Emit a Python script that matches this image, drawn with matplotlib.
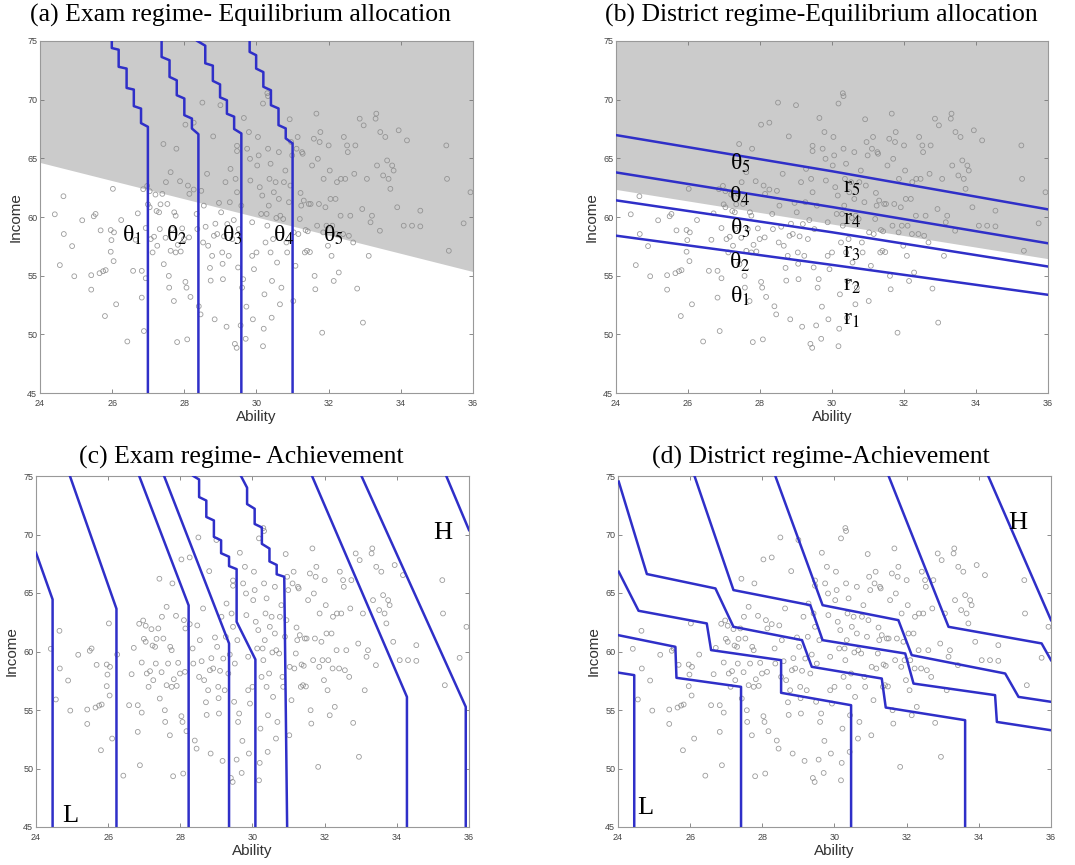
import matplotlib
matplotlib.use("Agg")
import matplotlib.pyplot as plt

plt.rcParams['mathtext.fontset'] = 'stix'

# --------- data ---------

ability = [24.41, 24.65, 24.66, 24.55, 24.89, 24.95, 25.17, 25.42, 25.42, 25.49,
           25.54, 25.68, 25.65, 25.75, 25.80, 25.82, 25.96, 25.96, 25.98, 26.02,
           26.04, 26.05, 26.11, 26.25, 26.42, 26.58, 26.65, 26.71, 26.82, 26.82,
           26.86, 26.88, 26.93, 26.93, 26.97, 26.99, 27.04, 27.04, 27.07, 27.12,
           27.16, 27.20, 27.23, 27.25, 27.30, 27.32, 27.34, 27.39, 27.42, 27.43,
           27.48, 27.49, 27.53, 27.57, 27.58, 27.62, 27.62, 27.66, 27.71, 27.72,
           27.76, 27.76, 27.78, 27.80, 27.82, 27.88, 27.90, 27.94, 27.99, 28.03,
           28.03, 28.06, 28.08, 28.10, 28.13, 28.14, 28.17, 28.26, 28.26, 28.34,
           28.36, 28.40, 28.45, 28.47, 28.50, 28.52, 28.54, 28.59, 28.63, 28.66,
           28.71, 28.73, 28.77, 28.80, 28.82, 28.84, 28.86, 28.91, 28.96, 29.00,
           29.02, 29.05, 29.06, 29.07, 29.10, 29.14, 29.17, 29.19, 29.23, 29.26,
           29.28, 29.33, 29.37, 29.40, 29.42, 29.45, 29.46, 29.46, 29.46, 29.49,
           29.51, 29.56, 29.58, 29.60, 29.63, 29.65, 29.70, 29.72, 29.74, 29.79,
           29.82, 29.83, 29.88, 29.88, 29.90, 29.93, 30.00, 30.02, 30.04, 30.06,
           30.09, 30.13, 30.16, 30.18, 30.18, 30.20, 30.22, 30.25, 30.28, 30.30,
           30.32, 30.34, 30.36, 30.39, 30.39, 30.42, 30.43, 30.46, 30.48, 30.53,
           30.55, 30.57, 30.62, 30.62, 30.65, 30.66, 30.69, 30.74, 30.76, 30.80,
           30.83, 30.85, 30.90, 30.92, 30.94, 30.96, 30.99, 31.02, 31.03, 31.08,
           31.11, 31.14, 31.16, 31.20, 31.22, 31.24, 31.26, 31.28, 31.31, 31.34,
           31.36, 31.40, 31.42, 31.45, 31.48, 31.50, 31.54, 31.59, 31.61, 31.63,
           31.66, 31.68, 31.70, 31.73, 31.75, 31.77, 31.82, 31.85, 31.86, 31.91,
           31.94, 31.98, 32.00, 32.03, 32.05, 32.08, 32.10, 32.14, 32.19, 32.22,
           32.23, 32.28, 32.33, 32.34, 32.40, 32.42, 32.46, 32.51, 32.53, 32.56,
           32.60, 32.68, 32.71, 32.74, 32.79, 32.86, 32.93, 32.95, 32.97, 33.06,
           33.11, 33.16, 33.20, 33.30, 33.32, 33.34, 33.42, 33.43, 33.51, 33.57,
           33.62, 33.66, 33.71, 33.76, 33.80, 33.90, 33.94, 34.08, 34.17, 34.31,
           34.54, 34.54, 35.26, 35.28, 35.33, 35.74, 35.93, 30.30, 30.32]
income = [60.23, 61.77, 58.55, 55.90, 57.52, 54.95, 59.72, 55.04, 53.81, 60.06,
          60.26, 58.86, 55.21, 55.38, 51.56, 55.47, 57.04, 58.89, 58.03, 62.40,
          56.24, 58.69, 52.56, 59.74, 49.39, 55.41, 58.06, 60.31, 53.13, 55.41,
          62.37, 50.28, 59.06, 54.78, 62.65, 61.08, 60.83, 62.20, 58.12, 56.98,
          58.32, 61.91, 60.51, 57.55, 60.40, 58.97, 61.08, 61.97, 66.22, 55.98,
          58.23, 62.97, 61.11, 54.98, 53.98, 63.82, 57.12, 58.97, 52.84, 60.40,
          60.11, 56.98, 65.82, 49.34, 57.63, 63.05, 57.06, 59.03, 58.12, 67.87,
          54.47, 53.98, 49.57, 62.68, 58.26, 61.97, 53.19, 68.04, 62.34, 60.26,
          58.97, 52.39, 51.70, 62.23, 69.75, 57.83, 60.97, 59.17, 63.68, 57.55,
          55.66, 54.58, 56.69, 66.87, 58.40, 51.28, 59.43, 58.55, 61.20, 69.53,
          60.40, 56.98, 56.01, 54.70, 58.35, 62.97, 50.65, 59.40, 56.69, 61.26,
          64.10, 58.12, 59.74, 49.19, 63.25, 48.85, 66.07, 65.62, 62.11, 55.70,
          58.97, 50.76, 60.97, 53.98, 54.70, 68.44, 49.62, 52.36, 65.82, 67.24,
          64.96, 63.11, 59.55, 56.69, 51.28, 55.55, 56.98, 64.39, 66.82, 65.25,
          62.54, 60.26, 61.83, 69.67, 48.99, 50.48, 53.41, 57.83, 60.26, 59.26,
          65.82, 60.97, 63.25, 56.98, 64.54, 51.42, 54.55, 58.12, 62.11, 62.97,
          59.92, 56.12, 61.54, 65.53, 52.56, 60.11, 53.98, 59.83, 62.97, 63.96,
          57.83, 56.98, 61.26, 68.33, 62.68, 66.39, 65.25, 52.84, 58.69, 55.84,
          65.82, 66.82, 58.55, 59.83, 62.05, 60.97, 65.53, 65.39, 61.40, 56.98,
          58.89, 57.12, 58.78, 61.11, 57.01, 61.11, 64.39, 66.67, 54.98, 53.84,
          68.81, 59.26, 64.96, 61.11, 66.39, 67.24, 50.14, 58.69, 63.25, 60.83,
          59.26, 57.55, 66.10, 63.96, 61.54, 56.69, 59.26, 54.55, 61.54, 58.55,
          62.97, 55.27, 60.11, 63.25, 58.55, 66.82, 63.25, 66.10, 65.53, 58.40,
          60.11, 57.83, 63.68, 66.10, 53.90, 68.38, 60.68, 51.00, 67.81, 63.25,
          56.69, 59.55, 60.11, 68.38, 68.81, 64.39, 58.83, 67.24, 63.54, 66.82,
          64.82, 63.25, 62.40, 64.39, 63.96, 60.83, 67.39, 59.26, 66.53, 59.26,
          60.54, 59.20, 66.10, 63.25, 57.12, 59.46, 62.11, 70.55, 70.30]

# (a) exam regime, allocation: shaded region boundary and school cutoffs
exam_bnd_x = [24.0, 36.0]
exam_bnd_y = [64.65, 55.35]
exam_alloc_x = [
    [26.99, 26.99, 26.80, 26.80, 26.60, 26.60, 26.40, 26.40, 26.18, 26.18, 25.99, 25.99],
    [28.39, 28.39, 28.21, 28.21, 28.00, 28.00, 27.79, 27.79, 27.59, 27.59, 27.37, 27.37],
    [29.58, 29.58, 29.38, 29.38, 29.18, 29.18, 28.99, 28.99, 28.79, 28.79, 28.58, 28.58, 28.36],
    [31.00, 31.00, 30.81, 30.81, 30.61, 30.61, 30.40, 30.40, 30.19, 30.19, 29.99, 29.99, 29.81, 29.81],
]
exam_alloc_y = [
    [45.0, 67.69, 68.00, 69.24, 69.45, 70.86, 71.00, 72.65, 72.80, 74.26, 74.40, 75.0],
    [45.0, 67.06, 67.54, 68.39, 68.68, 70.10, 70.38, 71.65, 71.94, 73.36, 73.64, 75.0],
    [45.0, 67.12, 67.50, 68.55, 68.80, 69.95, 70.20, 71.30, 71.60, 72.90, 73.10, 74.60, 75.0],
    [45.0, 66.27, 66.70, 67.55, 67.83, 69.25, 69.53, 70.80, 71.10, 72.35, 72.65, 73.79, 74.07, 75.0],
]
exam_theta_x = [26.54, 27.79, 29.33, 30.75, 32.14]
exam_theta_y = [58.47, 58.47, 58.47, 58.47, 58.47]

# (b) district regime, allocation
dist_bnd_x = [24.0, 36.0]
dist_bnd_y = [62.35, 56.45]
dist_alloc_x = [24.0, 30.0, 36.0]
dist_alloc_y = [
    [66.98, 63.90, 60.65],
    [63.80, 60.85, 57.76],
    [61.42, 58.70, 55.78],
    [58.41, 55.92, 53.37],
]
dist_theta_x = 27.45
dist_theta_y = [53.2, 56.1, 59.0, 61.75, 64.6]
dist_r_x = 30.55
dist_r_y = [51.25, 54.2, 56.95, 59.75, 62.55]

# (c) exam regime, achievement contours
exam_ach_x = [
    [24.00, 24.46, 24.46],
    [24.94, 26.23, 26.23],
    [26.86, 28.23, 28.23],
    [27.55, 29.35, 29.35],
    [28.36, 28.52, 28.52, 28.72, 28.72, 28.93, 28.93, 29.13, 29.13, 29.35, 29.35, 29.56, 29.56, 30.08, 30.08],
    [29.68, 29.85, 29.85, 30.06, 30.06, 30.26, 30.26, 30.47, 30.47, 30.67, 30.67, 30.88, 30.96],
    [31.65, 34.28, 34.28],
    [33.02, 35.91, 35.91],
    [35.37, 36.00],
]
exam_ach_y = [
    [68.44, 64.45, 45.0],
    [75.0, 63.65, 45.0],
    [75.0, 63.94, 45.0],
    [75.0, 60.69, 45.0],
    [75.0, 74.70, 73.20, 72.90, 71.50, 71.20, 69.80, 69.50, 68.40, 68.10, 67.30, 67.04, 62.54, 59.32, 45.0],
    [75.0, 74.00, 72.60, 72.20, 70.90, 70.60, 69.20, 68.80, 67.70, 67.40, 66.60, 66.39, 45.0],
    [75.0, 56.12, 45.0],
    [75.0, 55.27, 45.0],
    [75.0, 70.38],
]

# (d) district regime, achievement contours
dist_ach_x = [
    [24.00, 24.45, 24.45],
    [24.00, 25.59, 25.62, 27.41, 27.41],
    [24.02, 24.57, 26.46, 26.58, 28.52, 28.52, 30.46, 30.46],
    [24.02, 24.80, 26.70, 27.20, 29.10, 29.37, 31.31, 31.42, 33.62, 33.62],
    [26.12, 27.20, 29.33, 29.67, 31.96, 32.19, 34.45, 34.50, 36.00],
    [28.36, 29.67, 31.77, 32.14, 34.73, 35.10, 36.00],
    [31.50, 33.16, 35.74, 36.00],
    [34.26, 36.00],
]
dist_ach_y = [
    [58.20, 57.98, 45.0],
    [61.40, 60.40, 57.75, 56.98, 45.0],
    [66.82, 63.48, 62.40, 60.12, 59.26, 56.47, 55.41, 45.0],
    [74.52, 66.62, 65.39, 62.11, 60.97, 58.69, 57.69, 55.21, 54.13, 45.0],
    [75.0, 65.25, 63.96, 60.97, 59.83, 57.26, 56.27, 53.98, 53.27],
    [75.0, 63.96, 62.68, 59.69, 58.12, 56.12, 55.70],
    [75.0, 62.11, 60.69, 59.26],
    [75.0, 62.68],
]

# --------- plotting ---------

line_col = '#2f2fc8'
shade_col = '#cbcbcb'
serif = 'Liberation Serif'
sans = 'Liberation Sans'

fig = plt.figure(figsize=(10.75, 8.65), dpi=100)
W, H = 1075, 865

def make_ax(l, r, t, b):
    ax = fig.add_axes([l / W, 1 - b / H, (r - l) / W, (b - t) / H])
    ax.set_xlim(24, 36)
    ax.set_ylim(45, 75)
    ax.set_xticks(range(24, 37, 2))
    ax.set_yticks(range(45, 76, 5))
    ax.tick_params(direction='in', top=True, right=True, length=3, width=0.6,
                   labelsize=6.5, colors='#777777', labelcolor='#444444')
    ax.tick_params(axis='x', pad=4)
    ax.tick_params(axis='y', pad=2)
    for lab in ax.get_xticklabels() + ax.get_yticklabels():
        lab.set_family(sans)
    for s in ax.spines.values():
        s.set_color('#999999')
        s.set_linewidth(0.8)
    ax.set_xlabel('Ability', fontsize=11, family=sans, color='#333333', labelpad=2)
    ax.set_ylabel('Income', fontsize=11, family=sans, color='#333333', labelpad=3)
    return ax

def dots(ax):
    ax.scatter(ability, income, s=12, facecolors='none', edgecolors='#8a8a8a',
               linewidths=0.6, alpha=0.85, zorder=2)

ax_a = make_ax(40, 473, 41, 393)
ax_b = make_ax(616, 1048, 41, 393)
ax_c = make_ax(36, 469, 476, 827)
ax_d = make_ax(618, 1051, 476, 827)

# (a)
ax_a.fill_between(exam_bnd_x, exam_bnd_y, 75, color=shade_col, lw=0, zorder=0)
dots(ax_a)
for xs, ys in zip(exam_alloc_x, exam_alloc_y):
    ax_a.plot(xs, ys, color=line_col, lw=1.8, zorder=3)
for i, (tx, ty) in enumerate(zip(exam_theta_x, exam_theta_y)):
    ax_a.text(tx, ty, 'θ$_{%d}$' % (i + 1), fontsize=17, family=serif,
              ha='center', va='center', zorder=4)

# (b)
ax_b.fill_between(dist_bnd_x, dist_bnd_y, 75, color=shade_col, lw=0, zorder=0)
dots(ax_b)
for ys in dist_alloc_y:
    ax_b.plot(dist_alloc_x, ys, color=line_col, lw=1.8, zorder=3)
for i, ty in enumerate(dist_theta_y):
    ax_b.text(dist_theta_x, ty, 'θ$_{%d}$' % (i + 1), fontsize=17, family=serif,
              ha='center', va='center', zorder=4)
for i, ty in enumerate(dist_r_y):
    ax_b.text(dist_r_x, ty, 'r$_{%d}$' % (i + 1), fontsize=17, family=serif,
              ha='center', va='center', zorder=4)

# (c)
dots(ax_c)
for xs, ys in zip(exam_ach_x, exam_ach_y):
    ax_c.plot(xs, ys, color=line_col, lw=1.8, zorder=3)
ax_c.text(35.26, 70.1, 'H', fontsize=19, family=serif, ha='center', va='center')
ax_c.text(24.94, 45.9, 'L', fontsize=19, family=serif, ha='center', va='center')

# (d)
dots(ax_d)
for xs, ys in zip(dist_ach_x, dist_ach_y):
    ax_d.plot(xs, ys, color=line_col, lw=1.8, zorder=3)
ax_d.text(35.08, 70.95, 'H', fontsize=19, family=serif, ha='center', va='center')
ax_d.text(24.76, 46.6, 'L', fontsize=19, family=serif, ha='center', va='center')

# panel titles
fig.text(240 / W, 1 - 15 / H, '(a) Exam regime- Equilibrium allocation',
         fontsize=18.5, family=serif, ha='center', va='center')
fig.text(821 / W, 1 - 15 / H, '(b) District regime-Equilibrium allocation',
         fontsize=18.5, family=serif, ha='center', va='center')
fig.text(241 / W, 1 - 457 / H, '(c) Exam regime- Achievement',
         fontsize=18.5, family=serif, ha='center', va='center')
fig.text(821 / W, 1 - 457 / H, '(d) District regime-Achievement',
         fontsize=18.5, family=serif, ha='center', va='center')

fig.savefig('out.png', dpi=100)
